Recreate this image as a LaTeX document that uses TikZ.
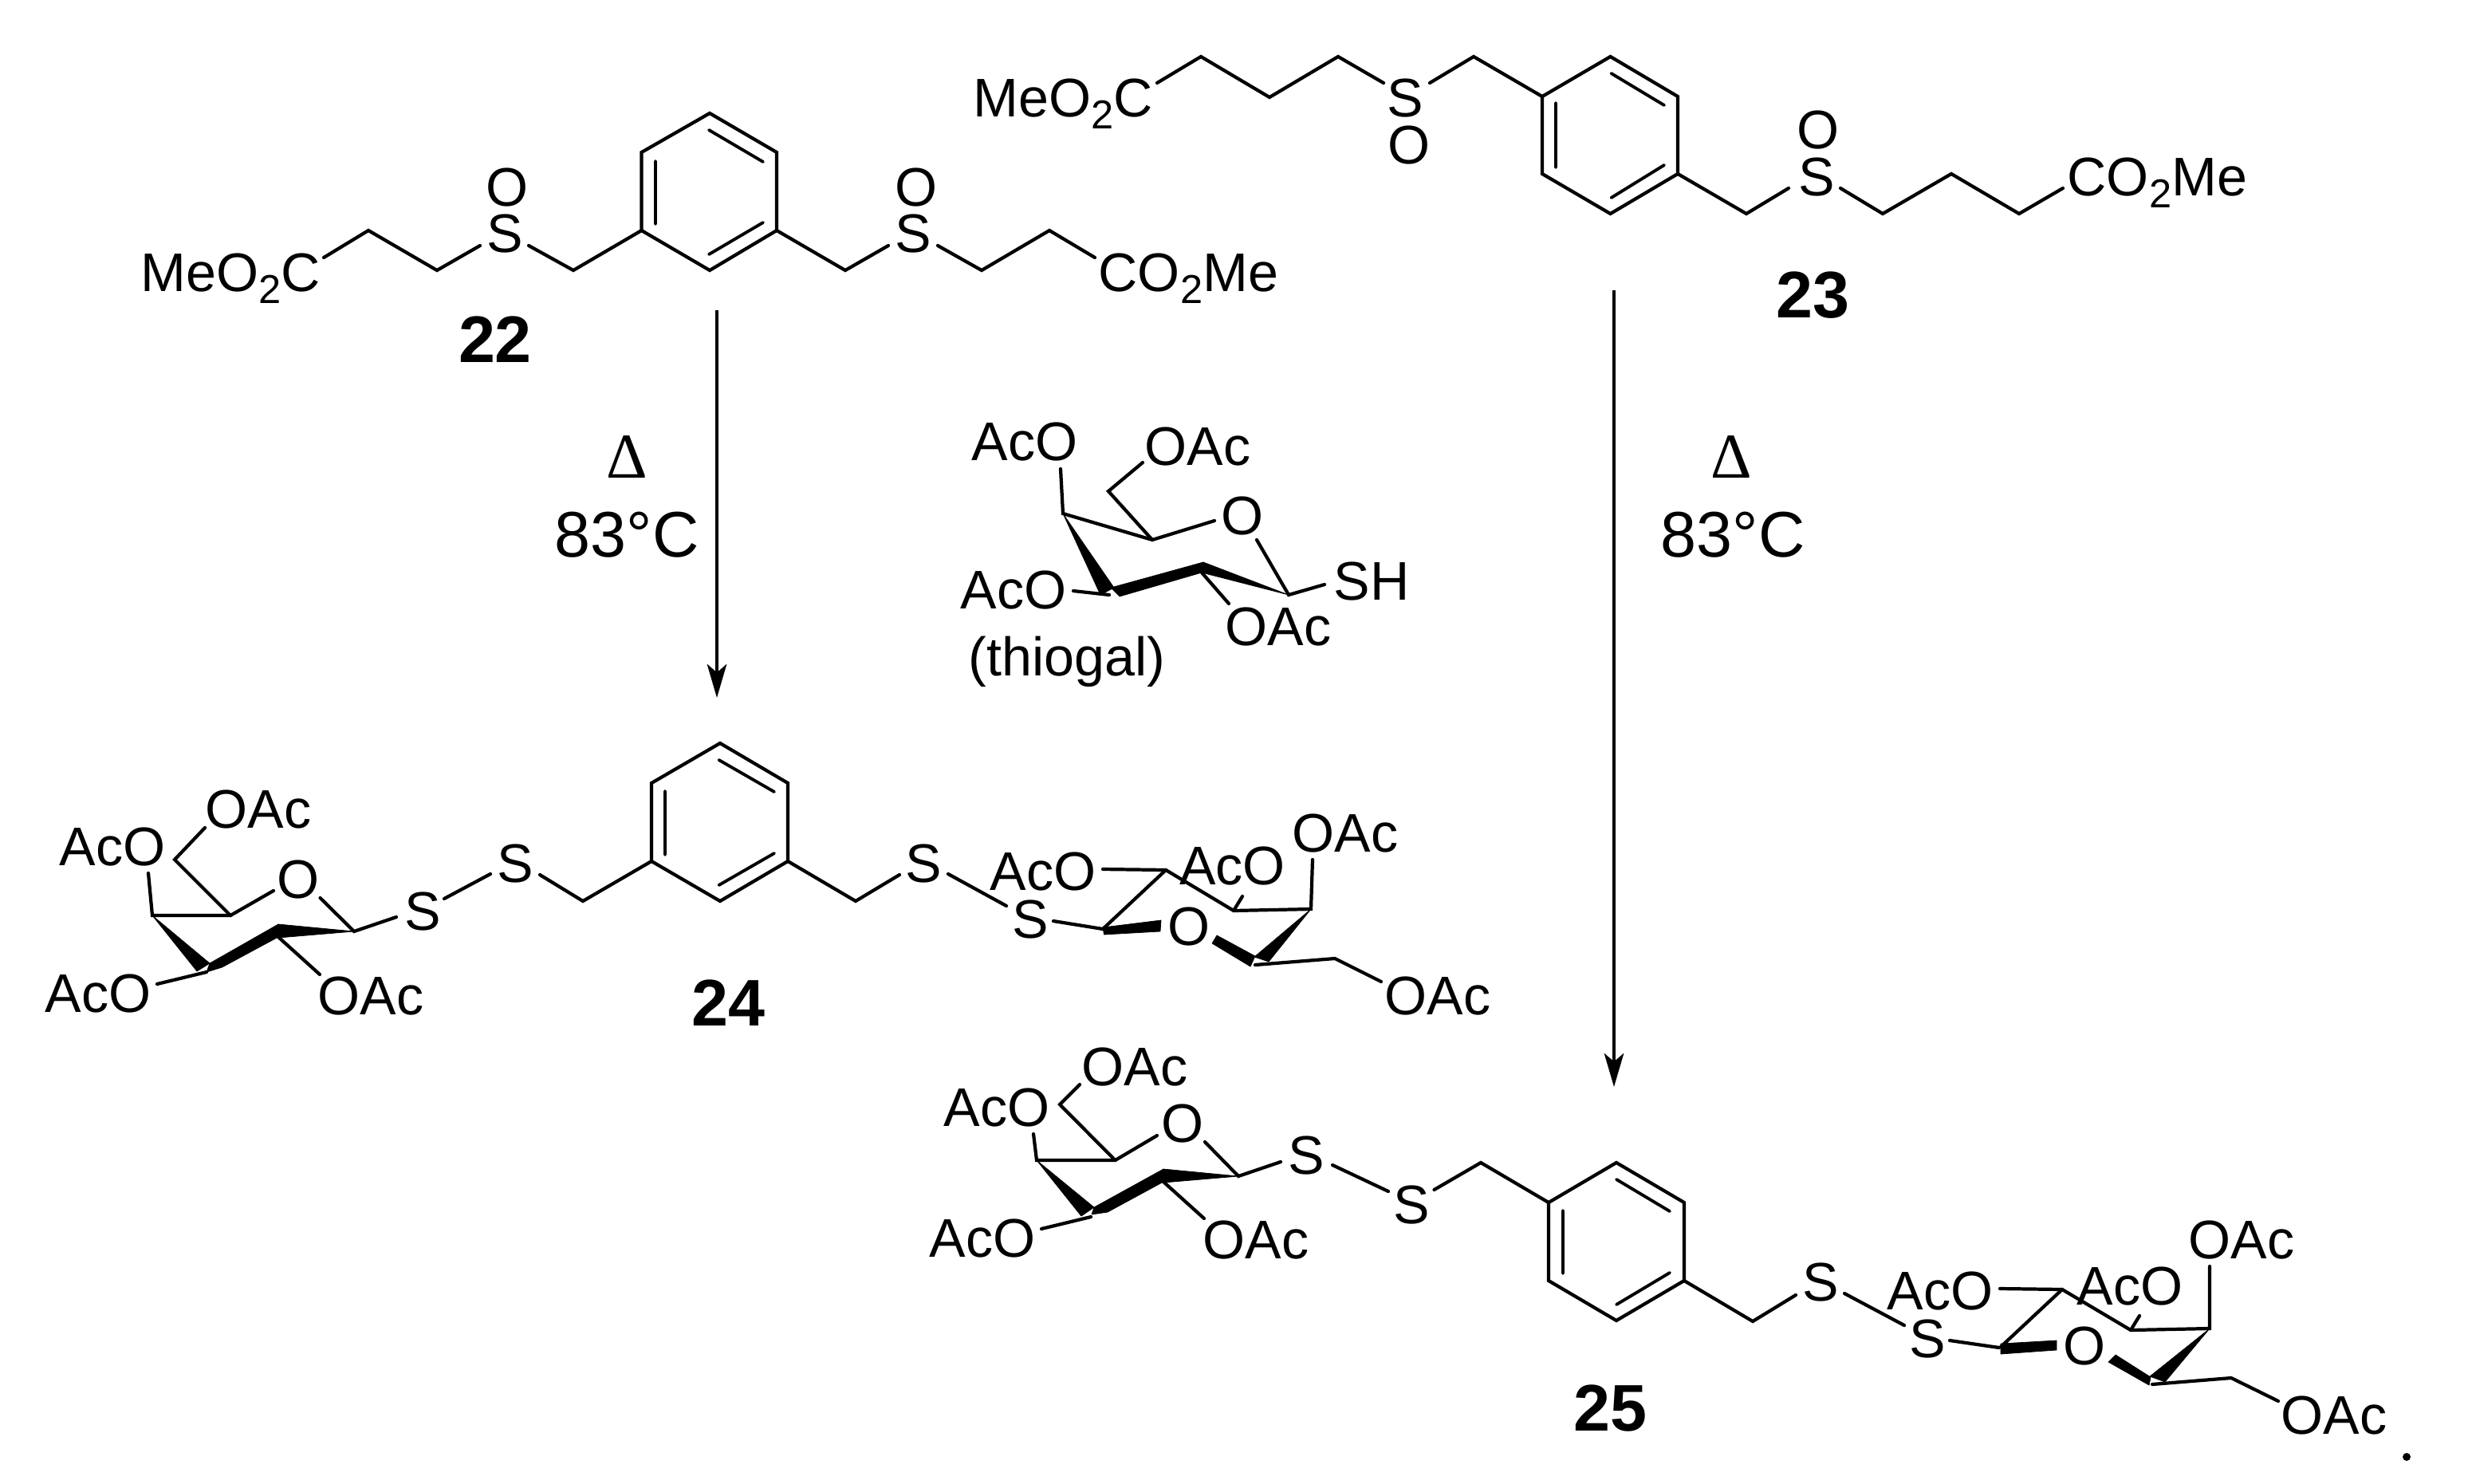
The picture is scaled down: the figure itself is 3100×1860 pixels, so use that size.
\documentclass[tikz,border=0pt]{standalone}
\usepackage{fontspec}
\setmainfont{Liberation Sans}
\newfontfamily\serifdelta{Liberation Serif}
\usetikzlibrary{arrows.meta}
\newcommand{\subtwo}{\raisebox{-0.22em}{\fontsize{14.4}{15}\selectfont 2}}
\tikzset{
  bond/.style={line width=1.2pt,line cap=round,line join=miter,black},
  inner/.style={line width=1.1pt,line cap=round,black},
  wedge/.style={fill=black,draw=black,line width=0.2pt,line join=round},
  rxn/.style={line width=0.9pt,black,-{Stealth[length=12pt,width=7pt,inset=3pt]}},
  atom/.style={inner sep=0pt,font=\fontsize{19.4}{20}\selectfont,anchor=center},
  grp/.style={inner sep=0pt,font=\fontsize{19.4}{20}\selectfont,anchor=base west,xshift=-0.03cm},
  temp/.style={inner sep=0pt,font=\fontsize{23}{24}\selectfont,anchor=base west},
  dlt/.style={inner sep=0pt,font=\serifdelta\fontsize{22.8}{24}\selectfont,anchor=center},
  cmpd/.style={inner sep=0pt,font=\bfseries\fontsize{23.5}{25}\selectfont,anchor=center}
}
\begin{document}
\begin{tikzpicture}[x=0.01cm,y=-0.01cm]
\useasboundingbox (0,0) rectangle (3100,1860);

%% ---------- 22 ----------
\node[grp] (a1) at (179,365) {MeO\subtwo C};
\node[atom] (a2) at (633,293) {S};
\node[atom] (a3) at (636,235) {O};
\node[atom] (a4) at (1145,293) {S};
\node[atom] (a5) at (1149,235) {O};
\node[grp] (a6) at (1380,365) {CO\subtwo Me};
\node[cmpd] (l22) at (621,426) {22};
\draw[bond] (890,142)--(974,191)--(974,289)--(890,339)--(804.5,289)--(804.5,191)--cycle;
\draw[inner] (889,163)--(957,203) (822,202)--(822,281) (957,279)--(889,319);
\draw[bond] (406,323)--(462,289)--(548,339)--(602,308);
\draw[bond] (663,308)--(719,339)--(804.5,289);
\draw[bond] (974,289)--(1060,339)--(1114,308);
\draw[bond] (1176,308)--(1231,339)--(1316,289)--(1373,323);

%% ---------- 23 ----------
\node[grp] (b1) at (1223,146) {MeO\subtwo C};
\node[atom] (b2) at (1762,123) {S};
\node[atom] (b3) at (1767,182) {O};
\node[atom] (b4) at (2278,222) {S};
\node[atom] (b5) at (2280,163) {O};
\node[grp] (b6) at (2595,245) {CO\subtwo Me};
\node[cmpd] (l23) at (2273,370) {23};
\draw[bond] (1934,121)--(2019.5,71)--(2104,121)--(2104,218)--(2019.5,268)--(1934,218)--cycle;
\draw[inner] (2020.5,92)--(2087,132) (1951,129)--(1951,210) (2087,207)--(2020.5,248);
\draw[bond] (1451,104)--(1506,71)--(1592,122)--(1678,71)--(1735,104);
\draw[bond] (1793,104)--(1848,71)--(1934,121);
\draw[bond] (2104,218)--(2190,268)--(2243,236);
\draw[bond] (2308,236)--(2361,268)--(2447,218)--(2532,268)--(2587,236);

%% ---------- reaction arrows ----------
\coordinate (r1s) at (899,389);
\coordinate (r1e) at (899,875);
\coordinate (r2s) at (2024,364);
\coordinate (r2e) at (2024,1363);
\draw[rxn] (r1s)--(r1e);
\draw[rxn] (r2s)--(r2e);
\node[dlt] (d1) at (786,573) {Δ};
\node[temp] (t1) at (695,698) {83°C};
\node[dlt] (d2) at (2171,573) {Δ};
\node[temp] (t2) at (2082,698) {83°C};

%% ---------- thiogal ----------
\node[grp] (c1) at (1221,577) {AcO};
\node[grp] (c2) at (1438,583) {OAc};
\node[atom] (c3) at (1558,647) {O};
\node[grp] (c4) at (1675,752) {SH};
\node[grp] (c5) at (1207,763) {AcO};
\node[grp] (c6) at (1539,809) {OAc};
\node[grp] (c7) at (1217,847) {(thiogal)};
\draw[bond] (1330,588)--(1333,644)--(1445,677)--(1523,653);
\draw[bond] (1445,677)--(1390,616)--(1433,580);
\draw[bond] (1576,677)--(1616,746)--(1661,733);
\draw[bond] (1346,741)--(1391,746);
\draw[bond] (1507,718)--(1541,757);
\fill[wedge] (1333,644)--(1380,746)--(1397,737)--cycle;
\fill[wedge] (1509,705)--(1507,718)--(1404,748)--(1393,737)--cycle;
\fill[wedge] (1616,746)--(1509,705)--(1507,718)--cycle;

%% ---------- 24, left sugar ----------
\node[grp] (e1) at (260,1038) {OAc};
\node[grp] (e2) at (77,1085) {AcO};
\node[atom] (e3) at (374,1103) {O};
\node[atom] (e4) at (530,1143) {S};
\node[atom] (e5) at (646,1083) {S};
\node[grp] (e6) at (59,1269) {AcO};
\node[grp] (e7) at (401,1272) {OAc};
\node[cmpd] (l24) at (913,1258) {24};
\draw[bond] (186,1095)--(191,1148)--(289,1148)--(343,1117);
\draw[bond] (289,1148)--(219,1078)--(257,1038);
\draw[bond] (401.5,1126)--(444,1168)--(497,1150);
\draw[bond] (557,1127)--(615,1096);
\draw[bond] (677,1097)--(731,1130)--(817,1080);
\draw[bond] (197,1234)--(259,1219);
\draw[bond] (349,1175)--(401,1222);
\fill[wedge] (191,1148)--(247,1218)--(263,1208)--cycle;
\fill[wedge] (263,1208)--(349,1159)--(349,1175)--(278.5,1213)--(259,1219)--cycle;
\fill[wedge] (444,1168)--(349,1159)--(349,1176)--cycle;
%% 24, ring
\draw[bond] (903,932)--(988,982)--(988,1080)--(903,1130)--(817,1080)--(817,982)--cycle;
\draw[inner] (901.5,953)--(971,993) (834,992)--(834,1072) (971,1070)--(901.5,1110);
%% 24, right sugar
\node[atom] (f1) at (1158,1083) {S};
\node[atom] (f2) at (1292,1153) {S};
\node[grp] (f3) at (1244,1116) {AcO};
\node[grp] (f4) at (1481.5,1109) {AcO};
\node[grp] (f5) at (1623,1068) {OAc};
\node[grp] (f6) at (1739,1272) {OAc};
\node[atom] (f7) at (1490.6,1162) {O};
\draw[bond] (988,1080)--(1073,1130)--(1128,1097);
\draw[bond] (1189,1096)--(1262,1136);
\draw[bond] (1321,1155)--(1383,1165);
\draw[bond] (1383,1090)--(1462,1091)--(1547,1142)--(1644,1140)--(1646,1078);
\draw[bond] (1462,1091)--(1383,1165);
\draw[bond] (1547,1142)--(1558,1124);
\draw[bond] (1574,1210)--(1674,1202)--(1732,1231);
\fill[wedge] (1383,1163)--(1456,1154)--(1455,1168)--(1384.5,1172)--cycle;
\fill[wedge] (1526,1173)--(1574,1199)--(1568,1212)--(1520,1183)--cycle;
\fill[wedge] (1644,1140)--(1573,1200)--(1591,1206)--cycle;

%% ---------- 25, left sugar ----------
\node[grp] (g1) at (1359,1361) {OAc};
\node[grp] (g2) at (1186,1412) {AcO};
\node[atom] (g3) at (1483,1409) {O};
\node[atom] (g4) at (1638.5,1449) {S};
\node[atom] (g5) at (1770.6,1511) {S};
\node[grp] (g6) at (1168,1576) {AcO};
\node[grp] (g7) at (1511,1578) {OAc};
\node[cmpd] (l25) at (2019,1766) {25};
\draw[bond] (1296,1422)--(1300,1455)--(1398.5,1455)--(1451,1424);
\draw[bond] (1398.5,1455)--(1329,1385)--(1354,1360);
\draw[bond] (1511,1432)--(1553,1475)--(1606,1457);
\draw[bond] (1671,1461)--(1741,1494);
\draw[bond] (1798.5,1492)--(1857,1458)--(1942,1508);
\draw[bond] (1306,1541)--(1368,1526);
\draw[bond] (1459,1482)--(1510,1528);
\fill[wedge] (1300,1455)--(1356,1525)--(1372,1514)--cycle;
\fill[wedge] (1372,1514)--(1459,1466)--(1459,1482)--(1389,1520)--(1369,1523)--cycle;
\fill[wedge] (1553,1475)--(1459,1466)--(1459,1483)--cycle;
%% 25, ring
\draw[bond] (2027,1458)--(2112,1508)--(2112,1606)--(2027,1656)--(1942,1606)--(1942,1508)--cycle;
\draw[inner] (2027,1479)--(2094,1519) (1960,1518)--(1960,1597) (2094,1596)--(2027,1636);
%% 25, right sugar
\node[atom] (h1) at (2283,1608) {S};
\node[atom] (h2) at (2417,1679) {S};
\node[grp] (h3) at (2369,1642) {AcO};
\node[grp] (h4) at (2607,1636) {AcO};
\node[grp] (h5) at (2747,1578) {OAc};
\node[grp] (h6) at (2863,1798) {OAc};
\node[atom] (h7) at (2614,1688) {O};
\draw[bond] (2112,1606)--(2198,1657)--(2252,1624);
\draw[bond] (2313,1622)--(2388,1662);
\draw[bond] (2445,1681)--(2507,1690);
\draw[bond] (2508,1616)--(2586,1617)--(2672,1668)--(2771,1666)--(2771,1588);
\draw[bond] (2586,1617)--(2509,1689);
\draw[bond] (2672,1668)--(2683,1650);
\draw[bond] (2699,1736)--(2798,1728)--(2857,1757);
\fill[wedge] (2509,1685)--(2579,1681)--(2579,1693)--(2509,1698)--cycle;
\fill[wedge] (2653,1699)--(2697,1727)--(2695,1737)--(2644,1708)--cycle;
\fill[wedge] (2771,1666)--(2696,1726)--(2715,1733)--cycle;
\fill[black] (3018,1827) circle (5);
\end{tikzpicture}
\end{document}
